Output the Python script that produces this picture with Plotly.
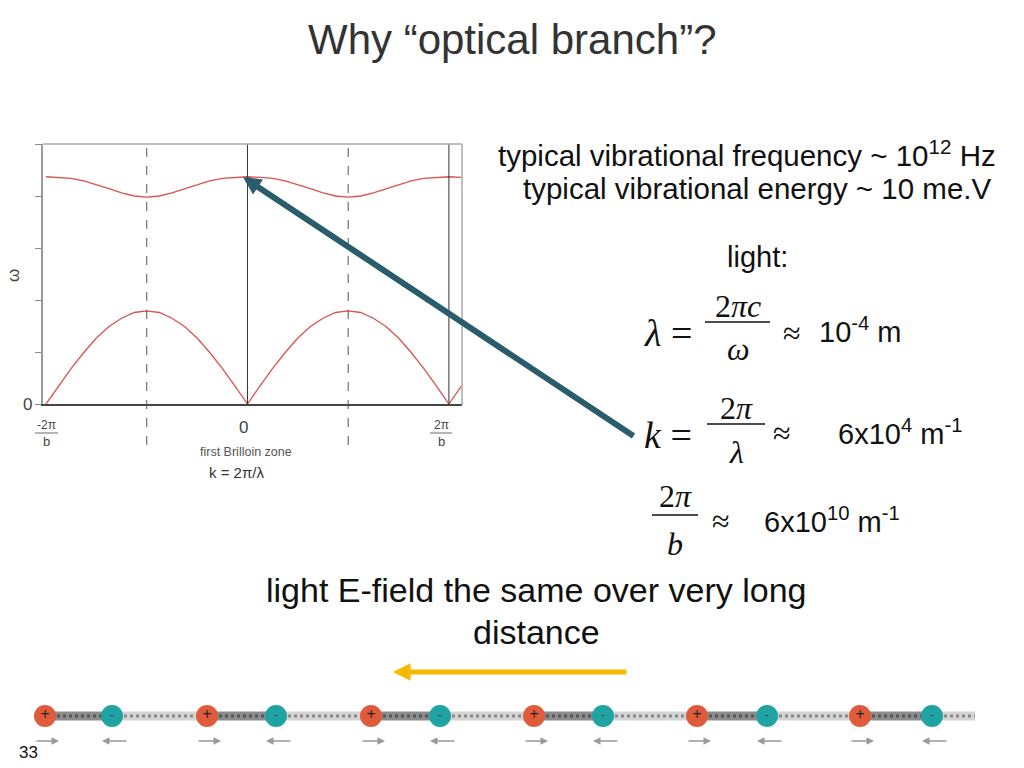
import plotly.graph_objects as go

# dispersion data (k in units of pi/b, omega arbitrary units)
k = [-2 + 0.125 * i for i in range(34)]
acoustic = [0, .35, .685, .99, 1.27, 1.49, 1.65, 1.76, 1.79, 1.76, 1.65, 1.49, 1.27, .99, .685, .35,
            0, .35, .685, .99, 1.27, 1.49, 1.65, 1.76, 1.79, 1.76, 1.65, 1.49, 1.27, .99, .685, .35, 0, .35]
optical = [4.37, 4.36, 4.34, 4.29, 4.22, 4.14, 4.06, 4.0, 3.98, 4.0, 4.06, 4.14, 4.22, 4.29, 4.34, 4.36,
           4.37, 4.36, 4.34, 4.29, 4.22, 4.14, 4.06, 4.0, 3.98, 4.0, 4.06, 4.14, 4.22, 4.29, 4.34, 4.36, 4.37, 4.36]
yticks = [0, 1, 2, 3, 4, 5]

# ion chain (slide pixel x positions)
plus_x = [45, 207, 371, 534, 697, 860]
minus_x = [112, 276, 440, 603, 767, 932]
chain_end = 975

OFF = 8  # page offset
def PX(x): return (x - OFF) / 1024
def PY(y): return 1 - (y - OFF) / 768

fig = go.Figure()
red = '#d9534f'
fig.add_trace(go.Scatter(x=k, y=acoustic, mode='lines', line=dict(color=red, width=1.3), showlegend=False))
fig.add_trace(go.Scatter(x=k, y=optical, mode='lines', line=dict(color=red, width=1.3), showlegend=False))

for i, px in enumerate(plus_x):
    mx = minus_x[i]
    nx = plus_x[i + 1] if i + 1 < len(plus_x) else chain_end
    for xs, c1, c2 in [([px, mx], '#8c8c8c', '#555'), ([mx, nx], '#d4d4d4', '#888')]:
        fig.add_trace(go.Scatter(x=xs, y=[716, 716], mode='lines', line=dict(color=c1, width=9),
                                 xaxis='x3', yaxis='y3', showlegend=False, hoverinfo='skip'))
        fig.add_trace(go.Scatter(x=xs, y=[716, 716], mode='lines', line=dict(color=c2, width=3, dash='dot'),
                                 xaxis='x3', yaxis='y3', showlegend=False, hoverinfo='skip'))
fig.add_trace(go.Scatter(x=plus_x, y=[716] * 6, mode='markers+text', text=['+'] * 6,
                         textfont=dict(color='#222', size=16), textposition='middle center',
                         marker=dict(size=22, color='#e05a3c'), xaxis='x3', yaxis='y3', showlegend=False))
fig.add_trace(go.Scatter(x=minus_x, y=[716] * 6, mode='markers+text', text=['-'] * 6,
                         textfont=dict(color='#335', size=12), textposition='middle center',
                         marker=dict(size=22, color='#1fa3a3'), xaxis='x3', yaxis='y3', showlegend=False))

ann = []
def A(x, y, t, size=22, color='#111', family='Liberation Sans, Arial', **kw):
    ann.append(dict(x=PX(x), y=PY(y), xref='paper', yref='paper', text=t, showarrow=False,
                    xanchor='center', yanchor='middle',
                    font=dict(size=size, color=color, family=family), **kw))

A(512, 40, 'Why “optical branch”?', 42, '#333')
A(747, 153, 'typical vibrational frequency ~ 10<sup>12</sup> Hz', 29.5)
A(757, 188, 'typical vibrational energy ~ 10 me.V', 29.5)
A(757, 257, 'light:', 29)
serif = 'Liberation Serif, Times New Roman'
A(668, 333, '<i>λ</i> =', 38, family=serif)
A(738, 306, '2<i>πc</i>', 32, family=serif)
A(738, 349, '<i>ω</i>', 32, family=serif)
A(792, 333, '≈', 32, family=serif)
A(860, 330, '10<sup>-4</sup> m', 29)
A(668, 435, '<i>k</i> =', 38, family=serif)
A(736, 408, '2<i>π</i>', 32, family=serif)
A(736, 452, '<i>λ</i>', 32, family=serif)
A(782, 433, '≈', 32, family=serif)
A(900, 432, '6x10<sup>4</sup> m<sup>-1</sup>', 29)
A(675, 496, '2<i>π</i>', 32, family=serif)
A(675, 544, '<i>b</i>', 32, family=serif)
A(721, 521, '≈', 32, family=serif)
A(832, 520, '6x10<sup>10</sup> m<sup>-1</sup>', 29)
A(536, 590, 'light E-field the same over very long', 34)
A(536, 632, 'distance', 34)
A(28, 752, '33', 17)
A(14, 276, 'ω', 17, '#444', textangle=-90)
A(46, 425, '-2π', 12, '#444')
A(46, 441, 'b', 13, '#444')
A(441, 425, '2π', 12, '#444')
A(441, 441, 'b', 13, '#444')
A(243, 427, '0', 17, '#444')
A(27, 404, '0', 17, '#444')
A(246, 452, 'first Brilloin zone', 12.5, '#555')
A(236, 472, 'k = 2π/λ', 15, '#333')

def arrow(x, y, ax, ay, w, c, hs):
    ann.append(dict(x=x, y=y, ax=ax, ay=ay, xref='x3', yref='y3', axref='x3', ayref='y3', showarrow=True,
                    arrowhead=2, arrowsize=hs, arrowwidth=w, arrowcolor=c, text=''))

arrow(243, 177, 635, 437, 6, '#2a5d6c', 0.6)
arrow(393, 672, 628, 672, 5, '#f5b800', 0.7)
for px in plus_x:
    arrow(px + 14, 741, px - 10, 741, 1.5, '#999', 1)
for mx in minus_x:
    arrow(mx - 10, 741, mx + 16, 741, 1.5, '#999', 1)

shapes = []
for xv, dash, c in [(-1, 'dash', '#555'), (1, 'dash', '#555'), (0, 'solid', '#333'), (2, 'solid', '#333')]:
    shapes.append(dict(type='line', xref='x', yref='paper', x0=xv, x1=xv,
                       y0=PY(445) if dash == 'dash' else PY(404), y1=PY(144),
                       line=dict(color=c, width=1, dash=dash)))
def L(x0, y0, x1, y1, c, w):
    shapes.append(dict(type='line', xref='paper', yref='paper', x0=PX(x0), x1=PX(x1),
                       y0=PY(y0), y1=PY(y1), line=dict(color=c, width=w)))
L(43, 144, 462, 144, '#aaa', 1.5)
L(462, 144, 462, 405, '#aaa', 1.5)
for x0, x1, y in [(705, 770, 322), (707, 765, 424), (652, 698, 515)]:
    L(x0, y, x1, y, '#111', 1.5)
for x0, x1, y in [(35, 58, 433), (430, 452, 433)]:
    L(x0, y, x1, y, '#444', 0.8)

fig.update_layout(
    width=1024, height=768, margin=dict(l=0, r=0, t=0, b=0), paper_bgcolor='white',
    plot_bgcolor='rgba(0,0,0,0)',
    xaxis=dict(domain=[PX(43), PX(462)], range=[-2.03, 2.13], showgrid=False, zeroline=False,
               showticklabels=False, showline=True, linecolor='#444', linewidth=2),
    yaxis=dict(domain=[PY(404), PY(144)], range=[0, 5], tickvals=yticks, ticks='outside',
               ticklen=6, tickcolor='#888', showticklabels=False, showgrid=False, zeroline=False,
               showline=True, linecolor='#999', linewidth=2),
    xaxis3=dict(domain=[0, 1], range=[OFF, 1024 + OFF], visible=False, anchor='y3', fixedrange=True),
    yaxis3=dict(domain=[0, 1], range=[768 + OFF, OFF], visible=False, anchor='x3', fixedrange=True),
    annotations=ann, shapes=shapes, showlegend=False,
)
fig.write_html('out.html')
